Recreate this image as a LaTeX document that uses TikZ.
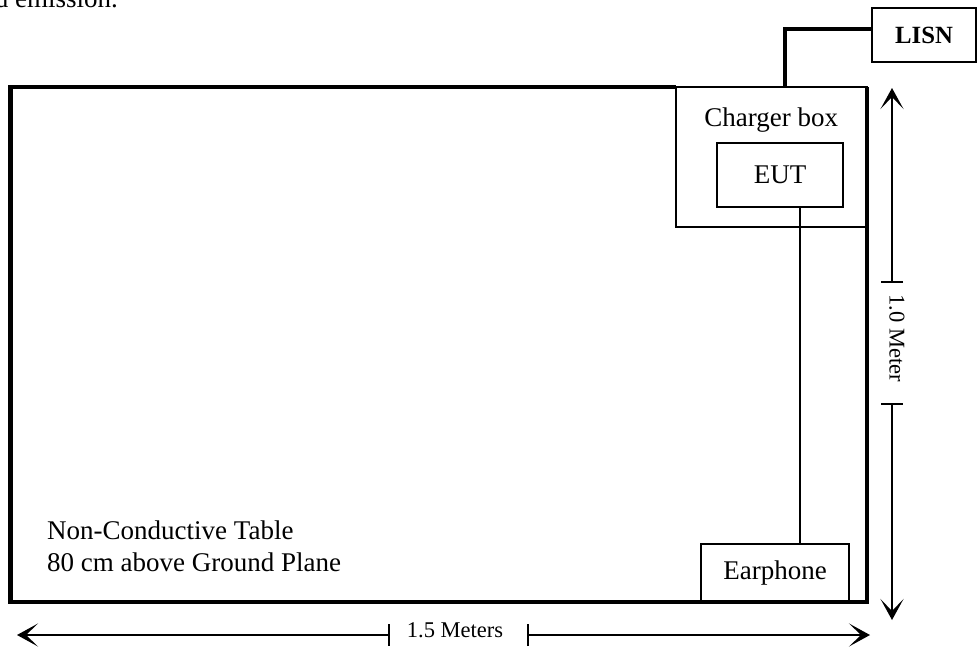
\documentclass[tikz,border=0pt]{standalone}
\usepackage{fontspec}
\setmainfont{Liberation Serif}
\usetikzlibrary{arrows.meta,positioning,calc}
\newcommand{\bigfs}{\fontsize{27}{32}\selectfont}
\newcommand{\dimfs}{\fontsize{22.5}{27}\selectfont}
\newcommand{\lisnfs}{\fontsize{24.75}{29}\selectfont\bfseries}
\tikzset{box/.style={draw,line width=2pt,inner sep=0pt,outer sep=0pt,font=\bigfs,align=center}, tabline/.style={line width=4.3pt,line join=miter}, cable/.style={line width=4pt}, wire/.style={line width=1.6pt}, dim/.style={line width=2pt,{Bar[width=22pt]}-{Stealth[length=21pt,width=23pt,inset=12pt]}}}
\begin{document}
\begin{tikzpicture}[x=1pt,y=-1pt]
\clip (0,0) rectangle (977,650);
\node[font=\bigfs,anchor=base east,inner sep=0pt] (cap) at (118,8) {d emission.};
\node[inner sep=0pt,outer sep=0pt,minimum width=856.5pt,minimum height=515pt] (tbl) at (438.75,344.5) {};
\node[box,minimum width=191.5pt,minimum height=140pt,label={[font=\bigfs,anchor=north,inner sep=0pt,yshift=-21pt]north:Charger box}] (chg) at (771.25,157) {};
\node[box,minimum width=126pt,minimum height=64pt] (eut) at (780,175) {EUT};
\node[box,minimum width=148pt,minimum height=58pt] (ear) at (775,573) {Earphone};
\node[box,font=\lisnfs,minimum width=104pt,minimum height=54pt] (lisn) at (924,35) {LISN};
\node[font=\bigfs,align=left,inner sep=0pt,anchor=south west] (note) at ([xshift=36.5pt,yshift=30pt]tbl.south west) {Non-Conductive Table\\80 cm above Ground Plane};
\draw[tabline] (chg.north west) -- (tbl.north west) -- (tbl.south west) -- (tbl.south east) -- (tbl.north east);
\draw[cable] (lisn.west |- 0,29) -| (chg.north -| 785,0);
\draw[wire] (eut.south -| 800,0) -- (ear.north -| 800,0);
% dimensions
\coordinate (vtop) at (892,88);
\coordinate (vbot) at (892,620);
\coordinate (vt1) at (892,283);
\coordinate (vt2) at (892,403);
\coordinate (hl) at (17,635);
\coordinate (hr) at (870,635);
\coordinate (ht1) at (390,635);
\coordinate (ht2) at (527,635);
\node[font=\dimfs,rotate=-90,inner sep=0pt] (vlab) at (897,338) {1.0 Meter};
\node[font=\dimfs,inner sep=0pt] (hlab) at (455,630) {1.5 Meters};
\draw[dim] (vt1) -- (vtop);
\draw[dim] (vt2) -- (vbot);
\draw[dim] (ht1) -- (hl);
\draw[dim] (ht2) -- (hr);
\end{tikzpicture}
\end{document}
